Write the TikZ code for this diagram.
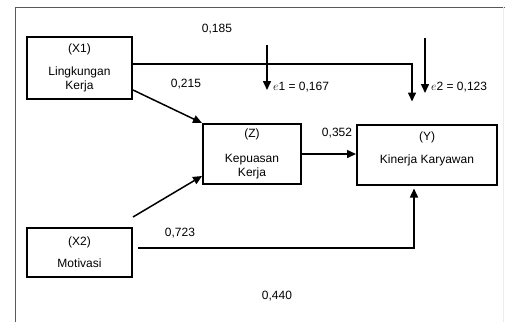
\documentclass[tikz,border=0pt]{standalone}
\usepackage{fontspec}
\setmainfont{Liberation Sans}
\usetikzlibrary{arrows.meta}

\begin{document}
\begin{tikzpicture}[x=1pt, y=-1pt,
    box/.style={rectangle, draw, line width=2pt, inner sep=0pt, align=center, font=\fontsize{12}{14}\selectfont},
    arrow/.style={-{Triangle[length=9pt,width=8pt]}, line width=1.5pt},
    coef/.style={font=\fontsize{12}{14}\selectfont, inner sep=1pt}]
    \useasboundingbox (0,0) rectangle (505,322);
    % frame
    \draw[gray!70!black, line width=1pt] (505,7) -- (15,7) -- (15,322);
    \draw[gray!15, line width=0.8pt] (503,7) -- (503,322);

    \node[box, minimum width=105pt, minimum height=62pt] (X1) at (79.5,68) {(X1)\\[9pt]Lingkungan\\Kerja};
    \node[box, minimum width=105pt, minimum height=49pt] (X2) at (79.5,252.5) {(X2)\\[8pt]Motivasi};
    \node[box, minimum width=98pt, minimum height=60pt] (Z) at (252,154) {(Z)\\[11pt]Kepuasan\\Kerja};
    \node[box, minimum width=140pt, minimum height=60pt] (Y) at (427,154.5) {(Y)\\[9pt]Kinerja Karyawan\\~};

    \coordinate (e1s) at (267,45);
    \coordinate (e1e) at (267,90);
    \coordinate (e2s) at (425,38);
    \coordinate (e2e) at (425,93);

    \node[coef] (c185) at (217,29) {0,185};
    \node[coef] (c215) at (186,84) {0,215};
    \node[coef] (c352) at (337,133) {0,352};
    \node[coef] (c723) at (180,233) {0,723};
    \node[coef] (c440) at (277,296) {0,440};
    \node[coef, anchor=west] (e1lab) at (272,87) {$e$1 = 0,167};
    \node[coef, anchor=west] (e2lab) at (430,87) {$e$2 = 0,123};

    \draw[arrow, shorten >=22pt] ([yshift=4pt]X1.east) -| ([xshift=-15pt]Y.north);
    \draw[arrow] ([yshift=10pt]X1.south east) -- (Z.north west);
    \draw[arrow] ([yshift=10pt]X2.north east) -- ([yshift=9pt]Z.south west);
    \draw[arrow] (Z.east) -- (Z.east -| Y.west);
    \draw[arrow, shorten >=3pt] ([xshift=5pt, yshift=4.5pt]X2.east) -| ([xshift=-13pt]Y.south);
    \draw[arrow] (e1s) -- (e1e);
    \draw[arrow] (e2s) -- (e2e);
\end{tikzpicture}
\end{document}
